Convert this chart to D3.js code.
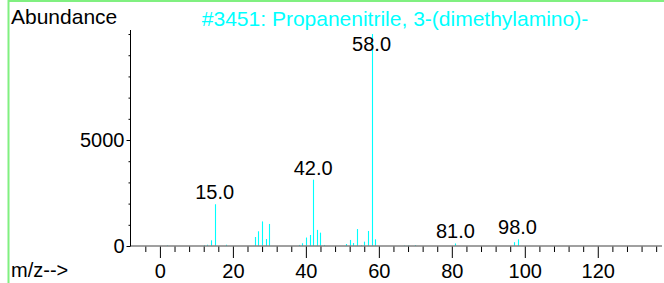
<!DOCTYPE html>
<html>
<head>
<meta charset="utf-8">
<script src="https://cdn.jsdelivr.net/npm/d3@7/dist/d3.min.js"></script>
<style>
  html, body { margin: 0; padding: 0; background: #fff; }
  svg { display: block; font-family: "Liberation Sans", Arial, sans-serif; }
</style>
</head>
<body>
<div id="chart"></div>
<script>
// spectrum #3451
const mz = [2, 12, 13, 14, 15, 18, 26, 27, 28, 29, 30, 38, 39, 40, 41, 42, 43, 44, 45,
  51, 52, 53, 54, 55, 56, 57, 58, 59, 67, 68, 70, 81, 97, 98];
const abundance = [30, 40, 60, 270, 1970, 60, 425, 695, 1160, 330, 1040, 50, 130, 400, 520, 3130, 760, 630, 50,
  95, 285, 140, 800, 40, 205, 710, 9999, 315, 25, 25, 45, 120, 180, 315];
const labelled = [15, 42, 58, 81, 98];
const xMajor = [0, 20, 40, 60, 80, 100, 120];
const yMajor = [0, 5000];

const title = "#3451: Propanenitrile, 3-(dimethylamino)-";

const width = 664, height = 283;
const peaks = mz.map((m, i) => ({ m: m, v: abundance[i] }));

const svg = d3.select("#chart").append("svg")
  .attr("width", width).attr("height", height);

// green frame
svg.append("rect")
  .attr("x", 8.5).attr("y", 1).attr("width", 700).attr("height", 320)
  .attr("fill", "none").attr("stroke", "#80f080").attr("stroke-width", 2);

const x = d3.scaleLinear().domain([-8.2, 137.6]).range([130, 662]);
const y = d3.scaleLinear().domain([0, 10190]).range([246, 30]);

// peaks
svg.selectAll(".peak")
  .data(peaks)
  .enter().append("line")
  .attr("class", "peak")
  .attr("x1", d => Math.round(x(d.m)) + 0.5)
  .attr("x2", d => Math.round(x(d.m)) + 0.5)
  .attr("y1", y(0))
  .attr("y2", d => y(d.v))
  .attr("stroke", "#00ffff")
  .attr("stroke-width", 1.1);

// x axis: minor ticks every 4, labelled every 20
const xMinor = d3.range(-4, 137, 4).filter(t => xMajor.indexOf(t) < 0);
svg.append("g")
  .attr("transform", `translate(0,${y(0)})`)
  .call(d3.axisBottom(x).tickValues(xMinor).tickSize(6).tickFormat(""))
  .call(g => g.select(".domain").remove())
  .call(g => g.selectAll("line").attr("stroke", "#000"));

svg.append("g")
  .attr("transform", `translate(0,${y(0)})`)
  .call(d3.axisBottom(x).tickValues(xMajor).tickSize(12).tickPadding(6).tickFormat(d3.format("d")))
  .call(g => g.select(".domain").remove())
  .call(g => g.selectAll("line").attr("stroke", "#000"))
  .call(g => g.selectAll("text").attr("font-size", 20).attr("font-family", "Liberation Sans, Arial, sans-serif").attr("fill", "#000"));

svg.append("line")
  .attr("x1", 130).attr("x2", 662)
  .attr("y1", y(0)).attr("y2", y(0))
  .attr("stroke", "#808080").attr("stroke-width", 1.6);

// y axis
const yMinor = d3.range(1000, 10001, 1000).filter(t => yMajor.indexOf(t) < 0);
svg.append("g")
  .attr("transform", "translate(130.5,0)")
  .call(d3.axisLeft(y).tickValues(yMinor).tickSize(2).tickFormat(""))
  .call(g => g.select(".domain").remove());

svg.append("g")
  .attr("transform", "translate(130.5,0)")
  .call(d3.axisLeft(y).tickValues(yMajor).tickSize(4).tickPadding(2).tickFormat(d3.format("d")))
  .call(g => g.select(".domain").remove())
  .call(g => g.selectAll("text").attr("font-size", 20).attr("font-family", "Liberation Sans, Arial, sans-serif").attr("fill", "#000"));

svg.append("line")
  .attr("x1", 130.5).attr("x2", 130.5)
  .attr("y1", 30).attr("y2", y(0))
  .attr("stroke", "#000").attr("stroke-width", 1);

// peak labels
svg.selectAll(".plabel")
  .data(peaks.filter(d => labelled.indexOf(d.m) >= 0))
  .enter().append("text")
  .attr("class", "plabel")
  .attr("x", d => x(d.m))
  .attr("y", d => Math.max(y(d.v) - 5, 51))
  .attr("text-anchor", "middle")
  .attr("font-size", 20)
  .text(d => d.m.toFixed(1));

// titles
svg.append("text").attr("x", 11).attr("y", 24)
  .attr("font-size", 21).text("Abundance");
svg.append("text").attr("x", 395).attr("y", 26)
  .attr("text-anchor", "middle").attr("font-size", 21)
  .attr("fill", "#00ffff").text(title);
svg.append("text").attr("x", 11).attr("y", 277)
  .attr("font-size", 20).text("m/z-->");
</script>
</body>
</html>
